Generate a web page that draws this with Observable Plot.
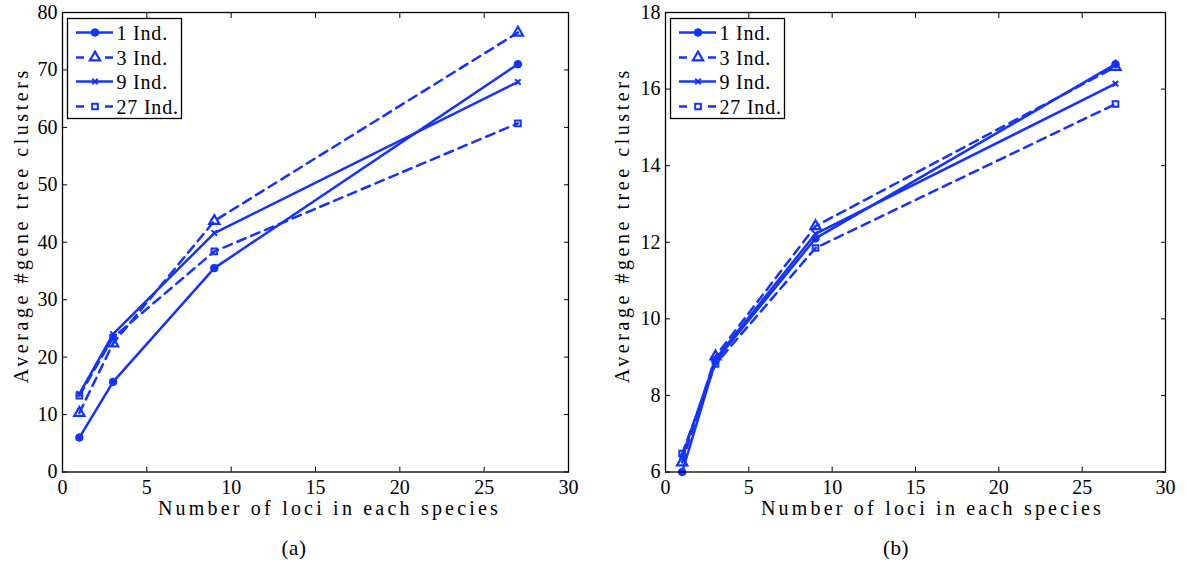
<!DOCTYPE html>
<html><head><meta charset="utf-8">
<script src="https://cdn.jsdelivr.net/npm/d3@7"></script>
<script src="https://cdn.jsdelivr.net/npm/@observablehq/plot@0.6"></script>
<style>
body{margin:0;background:#fff;font-family:"Liberation Serif","DejaVu Serif",serif;}
#wrap{position:relative;width:1186px;height:565px;overflow:hidden;}
.panel{position:absolute;top:0;}
.cap{position:absolute;font-size:21px;transform:translate(-50%,-50%);color:#000;font-family:"Liberation Serif","DejaVu Serif",serif;letter-spacing:0.5px;}
svg text{font-family:"Liberation Serif","DejaVu Serif",serif !important;}
</style></head><body><div id="wrap"></div>
<script>
// ---- data ----
const lociX = [1, 3, 9, 27];
const seriesNames = ["1 Ind.", "3 Ind.", "9 Ind.", "27 Ind."];
// panel (a)
const a1Ind  = [6.0, 15.7, 35.5, 71.0];
const a3Ind  = [10.3, 22.4, 43.7, 76.5];
const a9Ind  = [13.6, 24.0, 41.6, 67.9];
const a27Ind = [13.3, 23.4, 38.4, 60.7];
// panel (b)
const b1Ind  = [6.0, 8.9, 12.1, 16.65];
const b3Ind  = [6.25, 9.02, 12.42, 16.58];
const b9Ind  = [6.4, 8.95, 12.22, 16.14];
const b27Ind = [6.48, 8.82, 11.85, 15.61];
const xTicks = [0, 5, 10, 15, 20, 25, 30];
const aTicks = [0, 10, 20, 30, 40, 50, 60, 70, 80];
const bTicks = [6, 8, 10, 12, 14, 16, 18];
const xLabel = "Number of loci in each species";
const yLabel = "Average #gene tree clusters";
const captions = ["(a)", "(b)"];

const FONT = '"Liberation Serif", "DejaVu Serif", serif';
const BLUE = "#1433ff";
const styles = [
  {symbol: "circle", dash: null, fill: BLUE, r: 3.8, sw: 1},
  {symbol: "triangle", dash: "9,6", fill: "none", r: 3.8, sw: 2.2},
  {symbol: "times", dash: null, fill: "none", r: 2.6, sw: 2},
  {symbol: "square", dash: "9,6", fill: "none", r: 3.2, sw: 2}
];

function makePanel(series, yDomain, yTicks, opts) {
  const W = 593, H = 525;
  const mt = 12, mb = H - 471.5;
  const marks = [];
  series.forEach((vals, i) => {
    const d = lociX.map((x, j) => ({x, y: vals[j]}));
    const st = styles[i];
    marks.push(Plot.line(d, {x: "x", y: "y", stroke: BLUE, strokeWidth: 2.5, strokeDasharray: st.dash}));
    marks.push(Plot.dot(d, {x: "x", y: "y", symbol: st.symbol, r: st.r, stroke: BLUE, strokeWidth: st.sw, fill: st.fill}));
  });
  const tickStyle = {tickSize: -5, stroke: "black", strokeWidth: 1};
  const plot = Plot.plot({
    width: W, height: H,
    marginLeft: opts.ml, marginRight: opts.mr, marginTop: mt, marginBottom: mb,
    style: {fontFamily: FONT, fontSize: "20px", color: "black", background: "white"},
    x: {domain: [0, 30]},
    y: {domain: yDomain},
    marks: [
      ...marks,
      Plot.axisX(xTicks, {anchor: "bottom", ...tickStyle, tickPadding: 13, fontSize: 20, label: null}),
      Plot.axisX(xTicks, {anchor: "top", ...tickStyle, tickFormat: () => "", label: null}),
      Plot.axisY(yTicks, {anchor: "left", ...tickStyle, tickPadding: 10, fontSize: 20, label: null}),
      Plot.axisY(yTicks, {anchor: "right", ...tickStyle, tickFormat: () => "", label: null}),
      Plot.frame({stroke: "black", strokeWidth: 1.3}),
      Plot.text([xLabel], {frameAnchor: "bottom", textAnchor: "middle", dy: 37, dx: opts.xlDx, lineAnchor: "middle", fontSize: 20, fill: "black"}),
      Plot.text([yLabel], {frameAnchor: "left", textAnchor: "middle", rotate: -90, dx: opts.ylDx, dy: -17, lineAnchor: "middle", fontSize: 20, fill: "black"})
    ]
  });
  const svg = d3.select(plot);
  svg.style("font-family", FONT);
  svg.selectAll("text").style("font-family", FONT);
  svg.selectAll("text").filter(function(){ return this.textContent === xLabel; }).style("letter-spacing", "3.2px");
  svg.selectAll("text").filter(function(){ return this.textContent === yLabel; }).style("letter-spacing", "3.55px");
  // legend
  const lx = opts.ml + 5.5, ly = mt + 6.5;
  const g = svg.append("g");
  g.append("rect").attr("x", lx).attr("y", ly).attr("width", 114).attr("height", 100)
    .attr("fill", "white").attr("stroke", "black").attr("stroke-width", 1.3);
  const rowY = [14, 39, 63, 88];
  const symGen = {circle: d3.symbolCircle, triangle: d3.symbolTriangle, times: d3.symbolTimes, square: d3.symbolSquare};
  seriesNames.forEach((name, i) => {
    const st = styles[i];
    const y = ly + rowY[i];
    const x0 = lx + 8.5, x1 = lx + 45.5, xm = lx + 27.5;
    if (st.dash) {
      g.append("line").attr("x1", x0).attr("x2", x0 + 8).attr("y1", y).attr("y2", y).attr("stroke", BLUE).attr("stroke-width", 2.5);
      g.append("line").attr("x1", x1 - 8).attr("x2", x1).attr("y1", y).attr("y2", y).attr("stroke", BLUE).attr("stroke-width", 2.5);
    } else {
      g.append("line").attr("x1", x0).attr("x2", x1).attr("y1", y).attr("y2", y).attr("stroke", BLUE).attr("stroke-width", 2.5);
    }
    g.append("path").attr("d", d3.symbol(symGen[st.symbol], Math.PI * st.r * st.r)())
      .attr("transform", `translate(${xm},${y})`)
      .attr("fill", st.fill).attr("stroke", BLUE).attr("stroke-width", st.sw);
    g.append("text").attr("x", lx + 49).attr("y", y).attr("dy", "0.35em")
      .attr("text-anchor", "start")
      .style("font-family", FONT).style("font-size", "20px").style("letter-spacing", "0.8px").attr("fill", "black")
      .text(name);
  });
  return plot;
}

const wrap = document.getElementById("wrap");
const pa = makePanel([a1Ind, a3Ind, a9Ind, a27Ind], [0, 80], aTicks, {ml: 62, mr: 25, xlDx: 14, ylDx: -41});
const pb = makePanel([b1Ind, b3Ind, b9Ind, b27Ind], [6, 18], bTicks, {ml: 72, mr: 21, xlDx: 17, ylDx: -43});
const da = document.createElement("div"); da.className = "panel"; da.style.left = "0px"; da.appendChild(pa);
const db = document.createElement("div"); db.className = "panel"; db.style.left = "593px"; db.appendChild(pb);
wrap.appendChild(da); wrap.appendChild(db);
[[294, captions[0]], [896, captions[1]]].forEach(([x, t]) => {
  const c = document.createElement("div"); c.className = "cap";
  c.style.left = x + "px"; c.style.top = "548px"; c.textContent = t; wrap.appendChild(c);
});
</script>
</body></html>
